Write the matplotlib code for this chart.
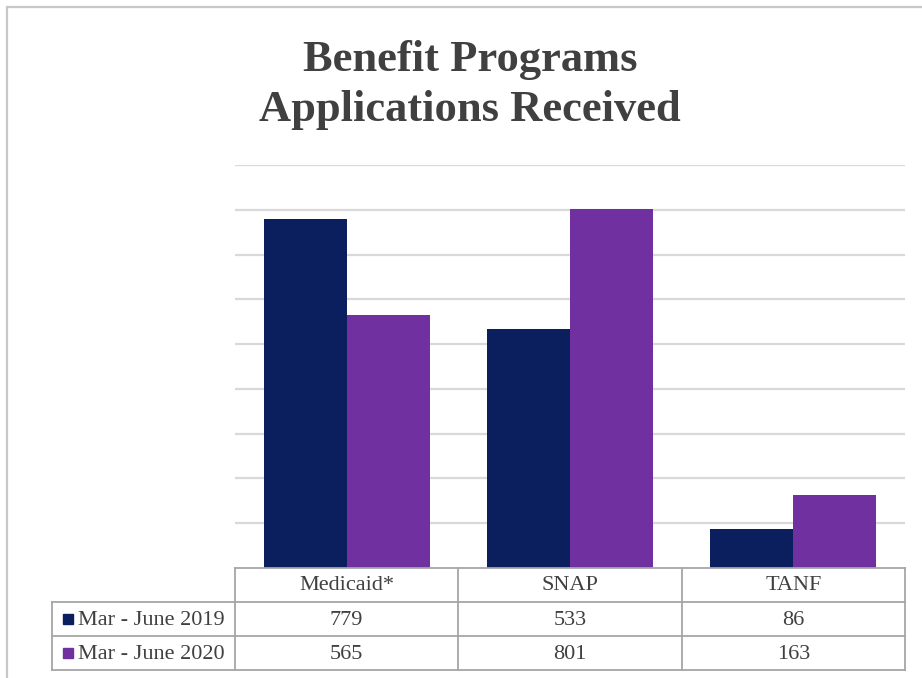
import matplotlib.pyplot as plt
from matplotlib.patches import Rectangle
import numpy as np

# Applications received by program
programs = ["Medicaid*", "SNAP", "TANF"]
periods = ["Mar - June 2019", "Mar - June 2020"]
apps_2019 = [779, 533, 86]
apps_2020 = [565, 801, 163]
series = [apps_2019, apps_2020]
colors = ["#0b1f5e", "#7030a0"]

W, H = 922, 678
fig = plt.figure(figsize=(W / 100, H / 100), dpi=100)
plt.rcParams['font.family'] = ['Liberation Serif', 'DejaVu Serif']
txt_color = "#404040"

def fx(px):
    return px / W

def fy(py):
    return 1 - py / H

# light frame around the chart area
fig.patches.append(Rectangle((fx(7), fy(700)), fx(940) - fx(7), fy(7) - fy(700),
                             transform=fig.transFigure, fill=False,
                             edgecolor="#c8c8c8", lw=1.6))

fig.text(fx(470), fy(71), "Benefit Programs", ha="center", va="baseline",
         fontsize=32, fontweight="bold", color=txt_color)
fig.text(fx(470), fy(121), "Applications Received", ha="center", va="baseline",
         fontsize=32, fontweight="bold", color=txt_color)

# bar plot
left, right, top, base = 235, 905, 165, 568
ax = fig.add_axes([fx(left), fy(base), fx(right) - fx(left), fy(top) - fy(base)])
x = np.arange(len(programs))
bw = 0.372
for i, vals in enumerate(series):
    ax.bar(x + (i - 0.5) * bw, vals, width=bw, color=colors[i], zorder=3)
ax.set_xlim(-0.5, 2.5)
ax.set_ylim(0, 900)
ax.set_yticks(np.arange(100, 901, 100))
ax.yaxis.grid(True, color="#d9d9d9", lw=1.6, zorder=0)
ax.tick_params(left=False, bottom=False, labelleft=False, labelbottom=False)
for s in ax.spines.values():
    s.set_visible(False)

# data table under the bars
tleft, tbottom = 52, 670
lab_w = (left - tleft) / ((right - left) / 3)
tax = fig.add_axes([fx(tleft), fy(tbottom), fx(right) - fx(tleft), fy(base) - fy(tbottom)])
tax.set_xlim(-0.5 - lab_w, 2.5)
tax.set_ylim(3, 0)
tax.axis("off")
lc, lw = "#a6a6a6", 1.3
x0 = -0.5 - lab_w
tax.plot([-0.5, 2.5], [0, 0], color=lc, lw=lw, clip_on=False)
for yy in [1, 2, 3]:
    tax.plot([x0, 2.5], [yy, yy], color=lc, lw=lw, clip_on=False)
tax.plot([x0, x0], [1, 3], color=lc, lw=lw, clip_on=False)
for xx in [-0.5, 0.5, 1.5, 2.5]:
    tax.plot([xx, xx], [0, 3], color=lc, lw=lw, clip_on=False)

for j, name in enumerate(programs):
    tax.text(j, 0.5, name, ha="center", va="center", fontsize=16, color=txt_color)
for i, vals in enumerate(series):
    tax.plot(x0 + 0.07, i + 1.5, marker="s", ms=7, color=colors[i], clip_on=False)
    tax.text(x0 + 0.115, i + 1.53, periods[i], ha="left", va="center",
             fontsize=16, color=txt_color)
    for j, v in enumerate(vals):
        tax.text(j, i + 1.53, str(v), ha="center", va="center",
                 fontsize=16, color=txt_color)

fig.savefig("out.png", dpi=100)
